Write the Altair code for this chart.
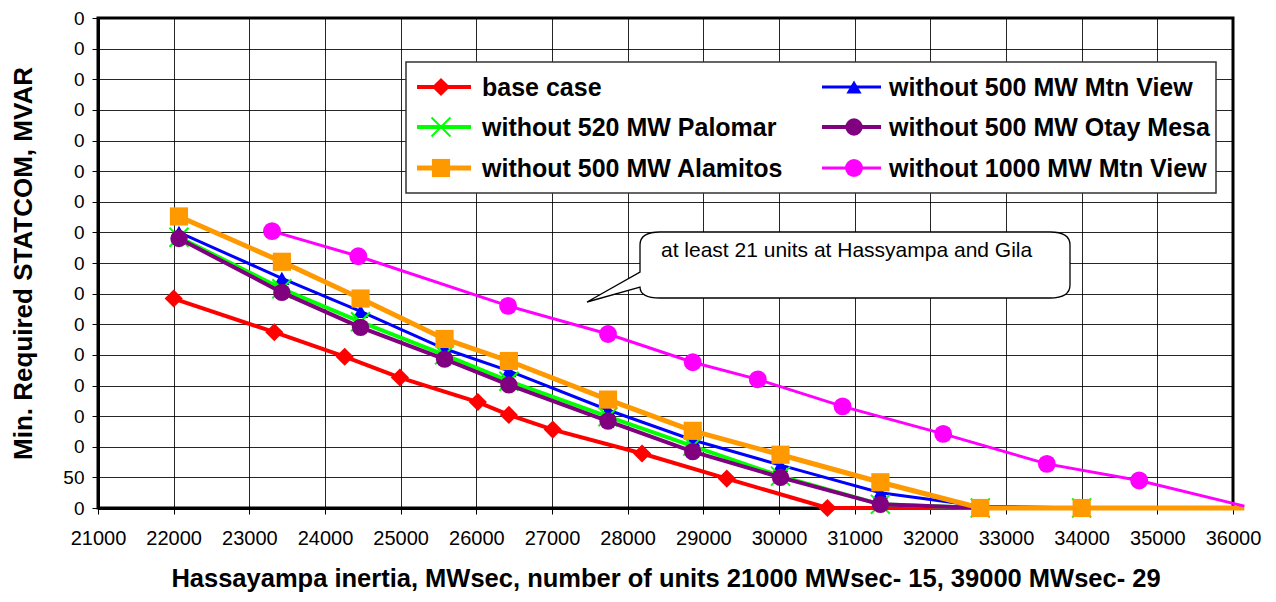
import altair as alt
import pandas as pd

FONT = "Liberation Sans"

# ---------------- data ----------------
series_names = [
    "base case",
    "without 500 MW Mtn View",
    "without 520 MW Palomar",
    "without 500 MW Otay Mesa",
    "without 500 MW Alamitos",
    "without 1000 MW Mtn View",
]

base_x = [22000, 23330, 24260, 24990, 26020, 26430, 27010, 28190, 29310, 30640, 32660, 34000]
base_y = [342, 287, 247, 213, 173, 152, 128, 89, 48, 0, 0, 0]

common_x = [22070, 23430, 24470, 25580, 26430, 27740, 28860, 30020, 31340, 32660, 34000]

mtnview_y = [450, 375, 321, 260, 224, 160, 111, 70, 25, 3, 0]
palomar_y = [442, 358, 304, 250, 207, 149, 101, 52, 6, 0, 0]
otay_x = [22070, 23430, 24470, 25580, 26430, 27740, 28860, 30020, 31340, 32660]
otay_y = [440, 352, 295, 243, 201, 142, 92, 50, 6, 0]
alamitos_x = [22070, 23430, 24470, 25580, 26430, 27740, 28860, 30020, 31340, 32660, 34000, 36150]
alamitos_y = [476, 402, 342, 276, 240, 177, 126, 87, 42, 0, 0, 0]

mtn1000_x = [23300, 24440, 26420, 27740, 28860, 29720, 30840, 32170, 33540, 34760, 36150]
mtn1000_y = [452, 411, 330, 284, 238, 210, 166, 121, 72, 45, 3]

x_ticks = list(range(21000, 36001, 1000))
y_ticks = list(range(0, 801, 50))

series_x = [base_x, common_x, common_x, otay_x, alamitos_x, mtn1000_x]
series_y = [base_y, mtnview_y, palomar_y, otay_y, alamitos_y, mtn1000_y]

# ---------------- styles ----------------
XSHAPE = "M-1,-1L1,1M-1,1L1,-1"
styles = [
    dict(color="#FF0000", shape="diamond", size=330, width=4, filled=True),
    dict(color="#0000FF", shape="triangle-up", size=230, width=3, filled=True),
    dict(color="#00FF00", shape=XSHAPE, size=360, width=4, filled=False),
    dict(color="#800080", shape="circle", size=300, width=4, filled=True),
    dict(color="#FF9900", shape="square", size=330, width=5, filled=True),
    dict(color="#FF00FF", shape="circle", size=320, width=3, filled=True),
]

TOP = 10
W, H = 1135, 490
X_MAX = 36000

xscale = alt.Scale(domain=[21000, X_MAX], nice=False, zero=False)
yscale = alt.Scale(domain=[0, 800], nice=False)
xaxis = alt.Axis(
    values=x_ticks, format="d", grid=True, labelOverlap=False, labelFlush=False,
    title="Hassayampa inertia, MWsec, number of units 21000 MWsec- 15, 39000 MWsec- 29",
    titleFontSize=25.5, titleFontWeight="bold", titlePadding=18,
    labelFontSize=20, labelPadding=14, tickSize=6,
)
yaxis = alt.Axis(
    values=y_ticks, grid=True, labelOverlap=False, labelFlush=False,
    labelExpr="datum.value == 50 ? '50' : '0'",
    title="Min. Required STATCOM, MVAR",
    titleFontSize=26, titleFontWeight="bold", titlePadding=26,
    labelFontSize=19, labelPadding=8, tickSize=6,
)

X = alt.X("x:Q", scale=xscale, axis=xaxis)
Y = alt.Y("y:Q", scale=yscale, axis=yaxis)

layers = []
for name, xs, ys, st in zip(series_names, series_x, series_y, styles):
    df = pd.DataFrame({"x": xs, "y": ys, "series": name})
    base = alt.Chart(df)
    layers.append(
        base.mark_line(color=st["color"], strokeWidth=st["width"], clip=False).encode(x=X, y=Y)
    )
    if st["filled"]:
        pm = base.mark_point(shape=st["shape"], size=st["size"], filled=True,
                             color=st["color"], opacity=1)
    else:
        pm = base.mark_point(shape=st["shape"], size=st["size"], filled=False,
                             color=st["color"], strokeWidth=2, opacity=1)
    layers.append(pm.transform_filter(alt.datum.x <= X_MAX).encode(x=X, y=Y))

# ---------------- legend (manual, pixel layout) ----------------
one = pd.DataFrame({"a": [0]})
dy = 13 - (8 + TOP)  # shift from reference page coords to plot coords
layers.append(
    alt.Chart(one).mark_rect(fill="white", stroke="#333333", strokeWidth=1.5).encode(
        x=alt.value(308), x2=alt.value(1118), y=alt.value(49 + dy), y2=alt.value(180 + dy)
    )
)
col_line = [(319, 373), (724, 783)]
col_mark = [343, 756]
col_text = [384, 791]
row_y = [74 + dy, 114 + dy, 155 + dy]
for i, (name, st) in enumerate(zip(series_names, styles)):
    r, c = divmod(i, 2)
    yy = row_y[r]
    layers.append(
        alt.Chart(one).mark_rule(color=st["color"], strokeWidth=st["width"]).encode(
            x=alt.value(col_line[c][0]), x2=alt.value(col_line[c][1]), y=alt.value(yy)
        )
    )
    if st["filled"]:
        pm = alt.Chart(one).mark_point(shape=st["shape"], size=st["size"], filled=True,
                                       color=st["color"], opacity=1)
    else:
        pm = alt.Chart(one).mark_point(shape=st["shape"], size=st["size"], filled=False,
                                       color=st["color"], strokeWidth=2, opacity=1)
    layers.append(pm.encode(x=alt.value(col_mark[c]), y=alt.value(yy)))
    layers.append(
        alt.Chart(one).mark_text(text=name, align="left", baseline="middle", font=FONT,
                                 fontSize=25, fontWeight="bold", color="black").encode(
            x=alt.value(col_text[c]), y=alt.value(yy + 1)
        )
    )

# ---------------- callout ----------------
callout_path = ("M562,219 L952,219 Q972,219 972,232 L972,272 Q972,285 952,285 "
                "L562,285 Q542,285 542,274 L489,289 L542,259 L542,232 Q542,219 562,219 Z")
layers.append(
    alt.Chart(one).mark_point(shape=callout_path, size=4, filled=True, fill="white",
                              stroke="black", strokeWidth=1.3, opacity=1).encode(
        x=alt.value(0), y=alt.value(dy)
    )
)
layers.append(
    alt.Chart(one).mark_text(text="at least 21 units at Hassyampa and Gila", align="left",
                             baseline="middle", font=FONT, fontSize=21, color="black").encode(
        x=alt.value(563), y=alt.value(238 + dy)
    )
)

chart = (
    alt.layer(*layers)
    .properties(
        width=W, height=H,
        autosize=alt.AutoSizeParams(type="none"),
        padding={"left": 90, "top": TOP, "right": 30, "bottom": 92},
    )
    .configure_view(stroke="black", strokeWidth=3)
    .configure_axis(
        labelFont=FONT, titleFont=FONT, labelColor="black", titleColor="black",
        domainColor="black", domainWidth=3, tickColor="black", tickWidth=1,
        gridColor="black", gridWidth=1, gridOpacity=0.85,
    )
)

chart.save("out.html", embed_options={"renderer": "svg", "actions": False})
